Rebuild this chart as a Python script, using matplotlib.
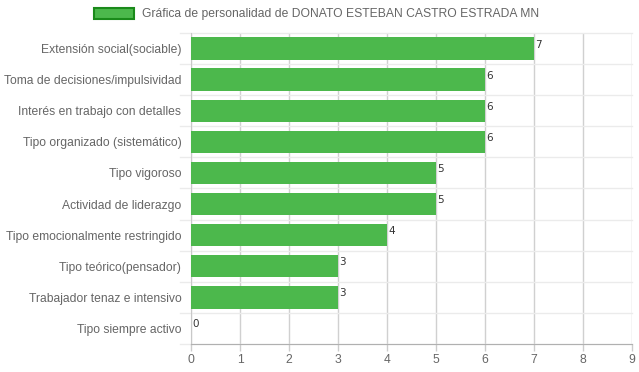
import numpy as np
import matplotlib.pyplot as plt
from matplotlib.patches import Rectangle

# Datos
categorias = [
    "Extensión social(sociable)",
    "Toma de decisiones/impulsividad",
    "Interés en trabajo con detalles",
    "Tipo organizado (sistemático)",
    "Tipo vigoroso",
    "Actividad de liderazgo",
    "Tipo emocionalmente restringido",
    "Tipo teórico(pensador)",
    "Trabajador tenaz e intensivo",
    "Tipo siempre activo",
]
valores = [7, 6, 6, 6, 5, 5, 4, 3, 3, 0]
titulo_leyenda = "Gráfica de personalidad de DONATO ESTEBAN CASTRO ESTRADA MN"

W, H = 639, 372
fig = plt.figure(figsize=(W / 100, H / 100), dpi=100)
ax = fig.add_axes([191 / W, (H - 344) / H, (632 - 191) / W, (344 - 33) / H])

y = np.arange(len(categorias))
ax.barh(y, valores, height=0.72, color="#4cb84c", zorder=3)

ax.set_xlim(0, 9)
ax.set_ylim(len(categorias) - 0.5, -0.5)
ax.set_xticks(range(10))
ax.set_yticks(y)
ax.set_yticklabels(categorias, fontsize=8.7, color="#666666", family="Liberation Sans")
ax.tick_params(axis="x", labelsize=8.7, labelcolor="#666666", color="#cccccc",
               length=5, width=1, pad=2)
ax.tick_params(axis="y", length=0, pad=7)
for lbl in ax.get_xticklabels():
    lbl.set_family("Liberation Sans")

# rejilla
for xv in range(10):
    ax.axvline(xv, color="#d0d0d0", lw=1, zorder=1)
for b in np.arange(-0.5, len(categorias), 1.0):
    ax.plot([-0.22, 9], [b, b], color="#ebebeb", lw=1, zorder=1, clip_on=False)

for s in ["top", "right"]:
    ax.spines[s].set_visible(False)
ax.spines["left"].set_color("#c8c8c8")
ax.spines["bottom"].set_color("#b0b0b0")
ax.spines["left"].set_zorder(2)

# etiquetas de valor
for yi, v in zip(y, valores):
    ax.text(v + 0.02, yi - 0.13, str(v), fontsize=7.5, family="DejaVu Sans",
            color="#333333", ha="left", va="center", zorder=4)

# leyenda
fig.patches.append(Rectangle((94 / W, (H - 19) / H), 40 / W, 11 / H,
                             transform=fig.transFigure, facecolor="#4cb84c",
                             edgecolor="#1a8a1a", lw=1.5))
fig.text(142 / W, (H - 14) / H, titulo_leyenda, fontsize=8.7, color="#666666",
         family="Liberation Sans", va="center", ha="left")

fig.savefig("out.png", dpi=100)
